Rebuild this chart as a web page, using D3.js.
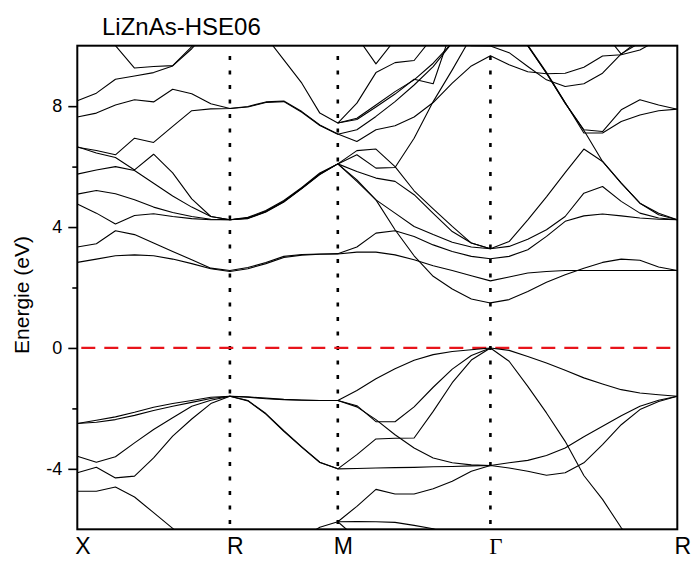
<!DOCTYPE html>
<html>
<head>
<meta charset="utf-8">
<script src="https://cdn.jsdelivr.net/npm/d3@7"></script>
<style>
  body { margin: 0; background: #fff; }
</style>
</head>
<body>
<div id="app"></div>
<script>
'use strict'

// k-path: high-symmetry points, their path positions and the k-steps per segment
const kLabels = ['X', 'R', 'M', 'Γ', 'R']
const kNodes = [0, 0.7071, 1.2071, 1.9142, 2.7802]
const kSteps = [8, 6, 8, 10]

const yMajor = [-4, 0, 4, 8]
const yMinor = [-2, 2, 6]
const fermi = 0

// energies (eV) at every k-point, segments X-R | R-M | M-G | G-R
const _ = null
const conduction = [
  [2.83, 2.94, 3.05, 3.08, 3.05, 2.94, 2.79, 2.62, 2.53,
   2.62, 2.79, 2.99, 3.07, 3.10, 3.11,
   3.17, 3.17, 3.08, 2.92, 2.72, 2.56, 2.39, 2.22,
   2.35, 2.48, 2.53, 2.56, 2.56, 2.56, 2.56, 2.56, 2.56, 2.56],
  [3.34, 3.45, 3.88, 3.75, 3.47, 3.19, 2.92, 2.64, 2.56,
   2.66, 2.83, 3.03, 3.09, 3.11, 3.12,
   3.34, 3.80, 3.88, 3.69, 3.41, 3.19, 3.03, 2.95,
   3.03, 3.25, 3.69, 4.19, 4.37, 4.43, 4.37, 4.30, 4.26, 4.24],
  [6.66, 6.45, 6.30, 5.89, 6.41, 5.79, 4.93, 4.35, 4.24,
   4.30, 4.52, 4.85, 5.29, 5.76, 6.09,
   5.51, 4.90, 3.91, 3.05, 2.37, 1.95, 1.62, 1.49,
   1.60, 1.87, 2.17, 2.42, 2.64, 2.83, 2.94, 2.90, 2.68, 2.56],
  [5.75, 5.89, 6.00, 5.87, 5.45, 5.03, 4.66, 4.35, 4.24,
   4.28, 4.50, 4.83, 5.27, 5.74, 6.09,
   5.84, 5.62, 5.51, 5.07, 4.45, 3.85, 3.47, 3.28,
   3.36, 3.60, 3.91, 4.35, 5.12, 5.34, 4.85, 4.46, 4.30, 4.24],
  [5.09, 5.21, 5.10, 4.90, 4.66, 4.48, 4.35, 4.26, 4.24,
   4.32, 4.55, 4.88, 5.31, 5.79, 6.09,
   6.53, 6.58, 6.00, 5.20, 4.60, 4.02, 3.47, 3.28,
   3.52, 4.24, 5.00, 5.80, 6.58, 6.17, 5.45, 4.79, 4.46, 4.24],
  [4.76, 4.46, 4.10, 4.38, 4.44, 4.35, 4.28, 4.24, 4.24,
   4.29, 4.51, 4.84, 5.28, 5.75, 6.09,
   6.39, 5.95, 5.97, 6.94, 8.15, 9.20, 10.3, 11.2,
   10.8, 10.0, 9.09, 8.10, 7.20, 6.17, 5.45, 4.79, 4.41, 4.24],
  [_, _, _, _, _, _, _, _, _,
   _, _, _, _, _, 6.09,
   5.56, 4.90, 4.46, 4.02, 3.75, 3.50, 3.34, 3.28,
   _, _, _, _, _, _, _, _, _, _],
  [6.64, 6.53, 6.39, 6.94, 6.80, 7.33, 7.85, 7.91, 7.92,
   7.99, 8.14, 8.17, 7.82, 7.38, 7.08,
   6.83, 7.22, 7.35, 7.64, 8.12, 8.76, 9.33, 9.67,
   9.37, 9.14, 9.07, 9.09, 9.29, 9.66, 9.70, 9.86, 10.2, 10.5],
  [7.64, 7.77, 8.04, 8.21, 8.14, 8.56, 8.41, 8.08, 7.92,
   7.97, 8.12, 8.15, 7.80, 7.36, 7.07,
   7.22, 7.66, 8.15, 8.70, 9.31, 10.1, 10.8, 11.5,
   10.7, 9.99, 9.09, 8.10, 7.22, 7.16, 7.88, 8.21, 8.04, 7.90],
  [8.18, 8.43, 8.89, 9.00, 9.11, 9.33, 9.90, 10.6, 11.0,
   10.8, 10.3, 9.53, 8.76, 7.77, 7.44,
   8.10, 9.11, 9.44, 9.51, 10.3, 11.0, 11.5, 12.0,
   10.75, 10.02, 9.12, 8.12, 7.11, 7.11, 7.49, 7.71, 7.85, 7.90],
  [11.0, 10.6, 10.0, 9.26, 9.31, 9.34, 9.97, 10.6, 11.2,
   11.6, 11.8, 11.8, 11.6, 11.4, 11.2,
   10.3, 9.40, 10.2, 10.8, 10.6, 10.1, 10.0, 9.99,
   9.77, 9.31, 8.87, 8.65, 8.74, 9.09, 9.73, 10.1, 10.5, 10.8],
  [_, _, _, _, _, _, _, _, _,
   _, _, _, _, _, 7.44,
   7.60, 8.04, 8.48, 8.87, 9.42, 10.1, 10.8, 11.4,
   _, _, _, _, _, _, _, _, _, _],
  [_, _, _, _, _, _, _, _, _,
   _, _, _, _, _, 7.44,
   7.56, 7.97, 8.40, 8.89, 8.74, 10.6, 11.3, 12.0,
   _, _, _, _, _, _, _, _, _, _],
  [_, _, _, _, _, _, _, _, _,
   _, _, _, _, _, _,
   _, _, _, _, _, _, _, _,
   _, _, _, _, _, 10.5, 9.72, 10.2, 10.8, 11.2]
]

const valence = [
  [-2.50, -2.39, -2.28, -2.13, -1.96, -1.84, -1.74, -1.63, -1.60,
   -1.63, -1.68, -1.71, -1.73, -1.74, -1.74,
   -1.41, -1.02, -0.69, -0.41, -0.22, -0.12, -0.06, 0.00,
   -0.08, -0.28, -0.50, -0.74, -0.99, -1.19, -1.38, -1.49, -1.55, -1.60],
  [-2.50, -2.46, -2.37, -2.23, -2.07, -1.93, -1.80, -1.67, -1.60,
   -1.62, -1.66, -1.70, -1.72, -1.74, -1.74,
   -1.95, -2.37, -2.87, -3.31, -3.64, -3.80, -3.87, -3.89,
   -3.80, -3.72, -3.56, -3.31, -2.94, -2.59, -2.24, -1.93, -1.73, -1.60],
  [-3.58, -3.78, -3.60, -3.14, -2.70, -2.31, -1.93, -1.73, -1.60,
   -1.74, -2.17, -2.74, -3.27, -3.78, -4.00,
   -3.99, -3.97, -3.96, -3.95, -3.93, -3.92, -3.90, -3.89,
   -3.97, -4.08, -4.21, -4.13, -3.80, -3.20, -2.54, -2.04, -1.77, -1.60],
  [-4.13, -3.95, -4.30, -4.24, -3.64, -2.92, -2.35, -1.84, -1.60,
   -1.75, -2.19, -2.76, -3.29, -3.79, -4.00,
   -3.53, -3.01, -2.99, -2.98, -2.10, -1.15, -0.40, 0.00,
   -0.44, -1.27, -2.15, -3.09, -4.22, -5.01, -5.95, -6.70, _, _],
  [-4.74, -4.74, -4.60, -4.93, -5.45, -5.97, -6.50, _, _,
   _, _, _, -6.30, -5.93, -5.75,
   -5.24, -4.68, -4.83, -4.83, -4.66, -4.41, -4.08, -3.89,
   _, _, _, _, _, _, _, _, _, _],
  [_, _, _, _, _, _, _, _, _,
   _, _, _, _, _, -5.75,
   -5.74, -5.75, -5.77, -5.87, -5.98, -6.20, _, _,
   _, _, _, _, _, _, _, _, _, _],
  [_, _, _, _, _, _, _, _, _,
   _, _, _, _, _, -5.75,
   -6.30, _, _, _, _, _, _, _,
   _, _, _, _, _, _, _, _, _, _],
  [_, _, _, _, _, _, _, _, _,
   _, _, _, _, _, -1.74,
   -1.91, -2.44, -2.44, -1.95, -1.30, -0.70, -0.25, 0.00,
   _, _, _, _, _, _, _, _, _, _]
]

// k positions of every sample along the path
const kPath = []
kSteps.forEach((n, s) => {
  for (let i = s === 0 ? 0 : 1; i <= n; i++) {
    kPath.push(kNodes[s] + (kNodes[s + 1] - kNodes[s]) * i / n)
  }
})

const margin = { top: 45.7, right: 15.7, bottom: 31.7, left: 77.3 }
const width = 693 - margin.left - margin.right
const height = 561 - margin.top - margin.bottom

const svg = d3.select('#app').append('svg')
  .attr('width', 693)
  .attr('height', 561)
  .style('font-family', '"Liberation Sans", Arial, sans-serif')

const g = svg.append('g')
  .attr('transform', `translate(${margin.left}, ${margin.top})`)

const xScale = d3.scaleLinear()
  .domain([kNodes[0], kNodes[kNodes.length - 1]])
  .range([0, width])

const yScale = d3.scaleLinear()
  .domain([-6, 10])
  .range([height, 0])

g.append('clipPath').attr('id', 'plot-clip')
  .append('rect')
  .attr('width', width)
  .attr('height', height)

const plot = g.append('g').attr('clip-path', 'url(#plot-clip)')

// dotted lines at the inner high-symmetry points
plot.selectAll('line.sym')
  .data(kNodes.slice(1, -1))
  .enter()
  .append('line')
  .attr('class', 'sym')
  .attr('x1', d => xScale(d))
  .attr('x2', d => xScale(d))
  .attr('y1', 0)
  .attr('y2', height)
  .style('stroke', '#000')
  .style('stroke-width', 2.6)
  .style('stroke-dasharray', '4,10.5')
  .style('stroke-dashoffset', 4.2)

// Fermi level
plot.append('line')
  .attr('x1', 0)
  .attr('x2', width)
  .attr('y1', yScale(fermi))
  .attr('y2', yScale(fermi))
  .style('stroke', '#e8141b')
  .style('stroke-width', 2.2)
  .style('stroke-dasharray', '14,9')
  .style('stroke-dashoffset', -4)

const line = d3.line()
  .defined(d => d != null)
  .x((d, i) => xScale(kPath[i]))
  .y(d => yScale(d))

plot.selectAll('path.band')
  .data(valence.concat(conduction))
  .enter()
  .append('path')
  .attr('class', 'band')
  .attr('d', line)
  .style('fill', 'none')
  .style('stroke', '#000')
  .style('stroke-width', 1.1)
  .style('stroke-linejoin', 'round')

// frame
g.append('rect')
  .attr('width', width)
  .attr('height', height)
  .style('fill', 'none')
  .style('stroke', '#000')
  .style('stroke-width', 2)

/*
 * Y axis: labelled major ticks and short minor ticks.
 */
const yAxis = g.append('g')
  .call(d3.axisLeft(yScale)
    .tickValues(yMajor)
    .tickSize(9)
    .tickPadding(6)
    .tickFormat(d => String(d)))
yAxis.select('.domain').remove()
yAxis.selectAll('line').style('stroke-width', 1.6)
yAxis.selectAll('text')
  .style('font-size', '18px')
  .style('font-family', '"Liberation Sans", Arial, sans-serif')
  .style('fill', '#000')

const yMinorAxis = g.append('g')
  .call(d3.axisLeft(yScale).tickValues(yMinor).tickSize(5).tickFormat(''))
yMinorAxis.select('.domain').remove()
yMinorAxis.selectAll('line').style('stroke-width', 1.6)

/*
 * X axis: high-symmetry labels only.
 */
const xAxis = g.append('g')
  .attr('transform', `translate(0, ${height})`)
  .call(d3.axisBottom(xScale)
    .tickValues(kNodes)
    .tickSize(0)
    .tickPadding(7)
    .tickFormat((d, i) => kLabels[i]))
xAxis.select('.domain').remove()
xAxis.selectAll('text')
  .attr('dx', 5)
  .attr('dy', '0.76em')
  .style('font-size', '23px')
  .style('fill', '#000')
  .style('font-family', (d, i) => kLabels[i] === 'Γ'
    ? '"Liberation Serif", "Times New Roman", serif'
    : '"Liberation Sans", Arial, sans-serif')

// axis title and chart title
svg.append('text')
  .attr('transform', 'translate(29, 295) rotate(-90)')
  .attr('text-anchor', 'middle')
  .style('font-size', '21px')
  .text('Energie (eV)')

svg.append('text')
  .attr('x', 102)
  .attr('y', 35)
  .style('font-size', '24px')
  .text('LiZnAs-HSE06')
</script>
</body>
</html>
